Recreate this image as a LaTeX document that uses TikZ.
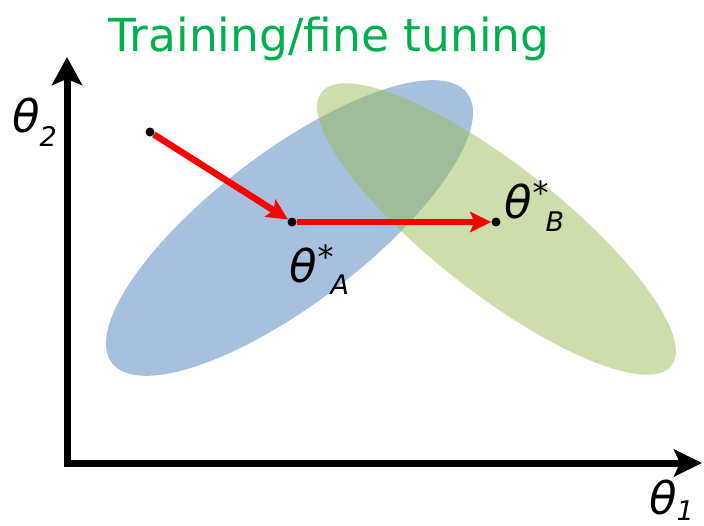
\documentclass[tikz,border=0pt]{standalone}
\usepackage{fontspec}
\setmainfont{DejaVu Sans}
\usetikzlibrary{arrows.meta}
\definecolor{titlegreen}{HTML}{00B050}
\definecolor{ellblue}{HTML}{4F81BD}
\definecolor{ellgreen}{HTML}{9BBB59}
\newcommand{\subfnt}{\fontsize{27}{30}\selectfont\itshape}
\newcommand{\starfnt}{\fontsize{32}{34}\selectfont}
\begin{document}
\begin{tikzpicture}[x=1pt,y=-1pt,
  axisline/.style={line width=7pt, line join=miter, {Stealth[length=28pt,width=30pt,inset=6pt]}-{Stealth[length=28pt,width=27pt,inset=6pt]}},
  redarrow/.style={red, line width=6.5pt, -{Stealth[length=21pt,width=20pt,inset=4pt]}},
  blackdot/.style={circle, fill=black, inner sep=0pt, minimum size=9pt},
  lbl/.style={font=\fontsize{45}{48}\selectfont\itshape, inner sep=0pt, anchor=base west},
  ttl/.style={font=\fontsize{45.5}{50}\selectfont, text=titlegreen, inner sep=0pt, anchor=base}]
\useasboundingbox (0,0) rectangle (704,525);
% ellipses
\fill[ellblue, fill opacity=0.5] (289.5,228) circle[x radius=223pt, y radius=76pt, rotate=37.2];
\fill[ellgreen, fill opacity=0.5] (496.5,229) circle[x radius=222pt, y radius=64pt, rotate=-38];
% axes
\coordinate (Ytip) at (67,57);
\coordinate (O) at (67,463);
\coordinate (Xtip) at (702,463);
\draw[axisline] (Ytip) -- (O) -- (Xtip);
% points
\node[blackdot] (dS) at (150,132) {};
\node[blackdot] (dA) at (292,222) {};
\node[blackdot] (dB) at (496,222) {};
\draw[redarrow] (dS) -- (dA);
\draw[redarrow] (dA) -- (dB);
% labels
\node[ttl] (title) at (329,51) {Training/fine tuning};
\node[lbl] (l2) at (12,132) {θ\raisebox{-14pt}{\subfnt 2}};
\node[lbl] (l1) at (649,514) {θ\raisebox{-6pt}{\subfnt 1}};
\node[lbl] (lA) at (289,282) {θ\kern1pt\raisebox{14pt}{\starfnt *}\kern-3pt\raisebox{-12pt}{\subfnt A}};
\node[lbl] (lB) at (504,218) {θ\kern1pt\raisebox{14pt}{\starfnt *}\kern-3pt\raisebox{-13pt}{\subfnt B}};
\end{tikzpicture}
\end{document}
